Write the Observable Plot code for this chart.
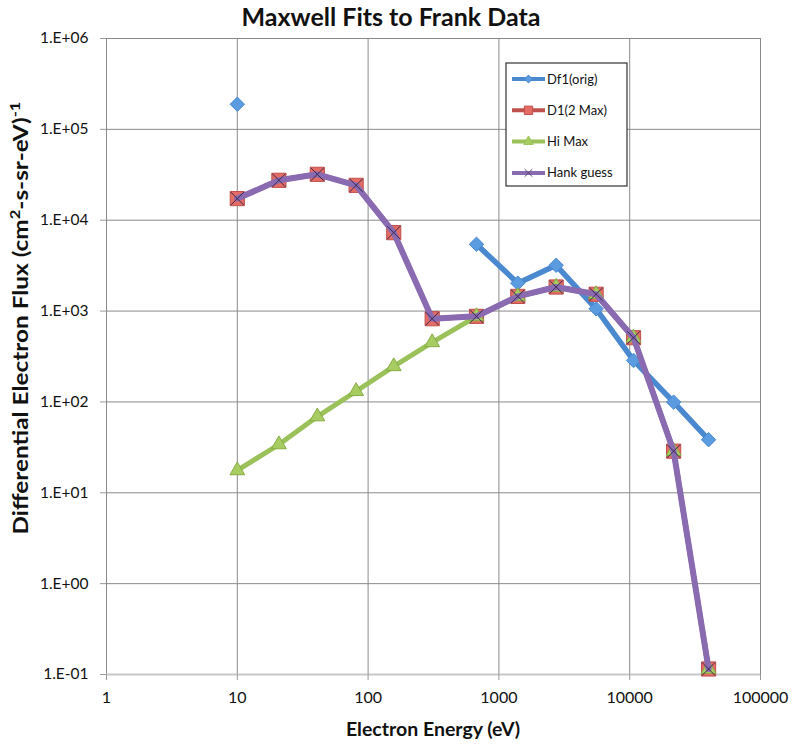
<!DOCTYPE html>
<html>
<head>
<meta charset="utf-8">
<script src="https://cdn.jsdelivr.net/npm/d3@7"></script>
<script src="https://cdn.jsdelivr.net/npm/@observablehq/plot@0.6"></script>
<style>
  html, body { margin: 0; padding: 0; background: #fff; }
  #chart { position: relative; width: 793px; height: 744px; }
</style>
</head>
<body>
<div id="chart"></div>
<script>
// Energy channels (eV)
const energy = [10, 20.8, 40.9, 81, 157, 309, 674, 1394, 2740, 5536, 10700, 21670, 40100];
// Series values (null = no point)
const df1 = [189000, null, null, null, null, null, 5430, 2030, 3190, 1060, 286, 99.5, 38.4];
const d1 = [17300, 27500, 32000, 24200, 7300, 824, 875, 1450, 1840, 1530, 509, 28.7, 0.115];
const hiMax = [17.6, 34, 69, 131, 246, 452, 875, 1450, 1840, 1530, 509, 28.7, 0.115];
const hank = [17300, 27500, 32000, 24200, 7300, 824, 875, 1450, 1840, 1530, 509, 28.7, 0.115];

const seriesNames = ["Df1(orig)", "D1(2 Max)", "Hi Max", "Hank guess"];
const xTicks = [1, 10, 100, 1000, 10000, 100000];
const yTicks = [1e-1, 1e0, 1e1, 1e2, 1e3, 1e4, 1e5, 1e6];

const toRows = (vals) => energy.map((e, i) => ({x: e, y: vals[i]}));
const rowsDf1 = toRows(df1);
const rowsD1 = toRows(d1);
const rowsHi = toRows(hiMax);
const rowsHank = toRows(hank);

const fmtY = d => {
  const e = Math.round(Math.log10(d));
  return "1.E" + (e < 0 ? "-" : "+") + String(Math.abs(e)).padStart(2, "0");
};

const FONT = "Lato, 'Open Sans', sans-serif";
const C = {
  blue: "#4a89cf", blueFill: "#5b9be0",
  red: "#c0504d", redFill: "#e46c64",
  green: "#9bc25a", greenFill: "#a6cc62",
  purple: "#8a6bb2"
};

const plot = Plot.plot({
  width: 793,
  height: 744,
  marginLeft: 106,
  marginRight: 33,
  marginTop: 38,
  marginBottom: 70,
  style: {fontFamily: FONT, fontSize: "15px", color: "#111", background: "#fff"},
  x: {type: "log", domain: [1, 100000], ticks: xTicks, tickFormat: d => String(d), label: null},
  y: {type: "log", domain: [0.1, 1e6], ticks: yTicks, tickFormat: fmtY, label: null},
  marks: [
    Plot.gridX(xTicks, {stroke: "#8a8a8a", strokeOpacity: 1, strokeWidth: 1}),
    Plot.gridY(yTicks, {stroke: "#8a8a8a", strokeOpacity: 1, strokeWidth: 1}),
    Plot.ruleY([0.1], {stroke: "#c8c8c8", strokeWidth: 2}),
    Plot.axisX(xTicks, {tickSize: 6, tickPadding: 11, stroke: "#999", fontSize: 16, tickFormat: d => String(d), label: null}),
    Plot.axisY(yTicks, {tickSize: 6, tickPadding: 12, stroke: "#999", fontSize: 15.5, tickFormat: fmtY, label: null}),
    // Df1
    Plot.line(rowsDf1, {x: "x", y: "y", stroke: C.blue, strokeWidth: 5.5}),
    Plot.dot(rowsDf1.filter(d => d.y != null), {x: "x", y: "y", symbol: "diamond2", r: 6.5, fill: C.blueFill, stroke: C.blue, strokeWidth: 1}),
    // D1
    Plot.line(rowsD1, {x: "x", y: "y", stroke: C.red, strokeWidth: 5}),
    Plot.dot(rowsD1, {x: "x", y: "y", symbol: "square", r: 8, fill: C.redFill, stroke: C.red, strokeWidth: 1}),
    // Hi Max
    Plot.line(rowsHi, {x: "x", y: "y", stroke: C.green, strokeWidth: 5}),
    Plot.dot(rowsHi, {x: "x", y: "y", symbol: "triangle", r: 5.5, fill: C.greenFill, stroke: "#86ad45", strokeWidth: 1}),
    // Hank guess
    Plot.line(rowsHank, {x: "x", y: "y", stroke: C.purple, strokeWidth: 6}),
    Plot.dot(rowsHank, {x: "x", y: "y", symbol: "times", r: 6, stroke: "#3a2a50", strokeWidth: 1})
  ]
});

document.getElementById("chart").appendChild(plot);

const svg = d3.select(plot);
// Title
svg.append("text").attr("x", 391).attr("y", 26)
  .attr("text-anchor", "middle").attr("font-family", FONT)
  .attr("font-weight", "bold").attr("font-size", 25).attr("fill", "#111")
  .text("Maxwell Fits to Frank Data");
// X label
svg.append("text").attr("x", 433).attr("y", 736)
  .attr("text-anchor", "middle").attr("font-family", FONT)
  .attr("font-weight", "bold").attr("font-size", 19.5).attr("fill", "#111")
  .text("Electron Energy (eV)");
// Y label (stretched along its run to span the same length as the original)
const YFS = 20.5;
const yl = svg.append("text").attr("class", "ylab").attr("transform", "translate(28,318) rotate(-90)")
  .attr("text-anchor", "middle").attr("font-family", FONT)
  .attr("font-weight", "bold").attr("font-size", YFS).attr("fill", "#111");
const sup = YFS * 0.68, shift = YFS * 0.38;
yl.append("tspan").text("Differential Electron Flux (cm");
yl.append("tspan").attr("font-size", sup).attr("dy", -shift).text("2");
yl.append("tspan").attr("dy", shift).text("-s-sr-eV)");
yl.append("tspan").attr("font-size", sup).attr("dy", -shift).text("-1");
try {
  const L = yl.node().getComputedTextLength();
  if (L > 50) {
    const s = Math.max(0.9, Math.min(1.25, 433 / L));
    yl.attr("transform", `translate(28,318) rotate(-90) scale(${s},1)`);
  }
} catch (e) {}

// Legend
const lg = svg.append("g").attr("font-family", FONT).attr("font-size", 13).attr("text-anchor", "start");
lg.append("rect").attr("x", 506).attr("y", 63).attr("width", 121).attr("height", 123)
  .attr("fill", "#fff").attr("stroke", "#333").attr("stroke-width", 1.2);
const legendItems = [
  {name: seriesNames[0], color: C.blue, fill: C.blueFill, sym: d3.symbolDiamond2, size: 40, filled: true},
  {name: seriesNames[1], color: C.red, fill: C.redFill, sym: d3.symbolSquare, size: 70, filled: true},
  {name: seriesNames[2], color: C.green, fill: C.greenFill, sym: d3.symbolTriangle, size: 40, filled: true},
  {name: seriesNames[3], color: C.purple, fill: "none", sym: d3.symbolTimes, size: 40, filled: false}
];
legendItems.forEach((it, i) => {
  const y = 79 + i * 31.3;
  lg.append("line").attr("x1", 512).attr("x2", 545).attr("y1", y).attr("y2", y)
    .attr("stroke", it.color).attr("stroke-width", 4);
  lg.append("path").attr("d", d3.symbol(it.sym, it.size)())
    .attr("transform", `translate(528.5,${y})`)
    .attr("fill", it.filled ? it.fill : "none")
    .attr("stroke", it.filled ? it.color : "#5a4a70").attr("stroke-width", 1);
  lg.append("text").attr("x", 547).attr("y", y).attr("dy", "0.35em").attr("fill", "#111").text(it.name);
});
</script>
</body>
</html>
